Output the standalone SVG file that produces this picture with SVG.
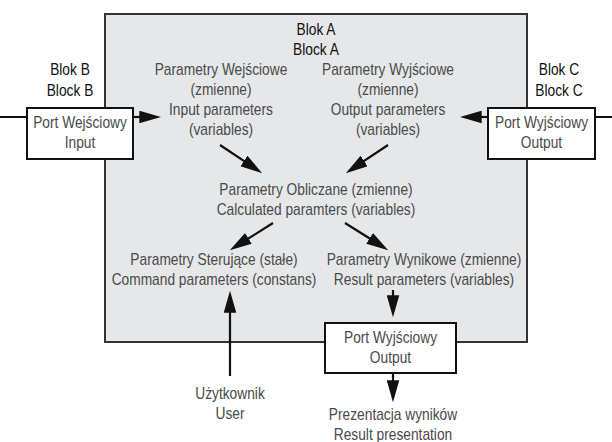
<svg xmlns="http://www.w3.org/2000/svg" width="612" height="442" viewBox="0 0 612 442">
<style>
text{font-family:"Liberation Sans",Arial,sans-serif;font-size:16px;text-anchor:middle;fill:#4a4a4a}
text.blk{fill:#111}
.box{fill:#fff;stroke:#111;stroke-width:2}
.main{fill:#e6e7e9;stroke:#333;stroke-width:2}
.ln{stroke:#111;stroke-width:2;fill:none}
.ar{stroke:#111;stroke-width:2.2;fill:none;marker-end:url(#ah)}
</style>
<defs>
<marker id="ah" markerUnits="userSpaceOnUse" markerWidth="22" markerHeight="13" refX="15" refY="6" orient="auto" viewBox="0 0 21 12">
<path d="M0,0 L21,6 L0,12 z" fill="#111"/>
</marker>
</defs>
<g id="blockA">
<rect class="main" x="105" y="14" width="422" height="328"/>
<text class="blk" transform="translate(316 35) scale(0.86 1)">Blok A</text>
<text class="blk" transform="translate(316 55) scale(0.86 1)">Block A</text>
</g>
<g id="blockB">
<text class="blk" transform="translate(70 75) scale(0.86 1)">Blok B</text>
<text class="blk" transform="translate(70 96) scale(0.86 1)">Block B</text>
</g>
<g id="blockC">
<text class="blk" transform="translate(559 75) scale(0.86 1)">Blok C</text>
<text class="blk" transform="translate(559 96) scale(0.86 1)">Block C</text>
</g>
<g id="inputParams">
<text transform="translate(221 75) scale(0.86 1)">Parametry Wejściowe</text>
<text transform="translate(221 95) scale(0.86 1)">(zmienne)</text>
<text transform="translate(221 115) scale(0.86 1)">Input parameters</text>
<text transform="translate(221 135) scale(0.86 1)">(variables)</text>
</g>
<g id="outputParams">
<text transform="translate(388 75) scale(0.86 1)">Parametry Wyjściowe</text>
<text transform="translate(388 95) scale(0.86 1)">(zmienne)</text>
<text transform="translate(388 115) scale(0.86 1)">Output parameters</text>
<text transform="translate(388 135) scale(0.86 1)">(variables)</text>
</g>
<g id="calcParams">
<text transform="translate(316 195) scale(0.86 1)">Parametry Obliczane (zmienne)</text>
<text transform="translate(316 215) scale(0.86 1)">Calculated paramters (variables)</text>
</g>
<g id="commandParams">
<text transform="translate(214 265) scale(0.86 1)">Parametry Sterujące (stałe)</text>
<text transform="translate(214 285) scale(0.86 1)">Command parameters (constans)</text>
</g>
<g id="resultParams">
<text transform="translate(424 265) scale(0.86 1)">Parametry Wynikowe (zmienne)</text>
<text transform="translate(424 285) scale(0.86 1)">Result parameters (variables)</text>
</g>
<g id="portInput">
<rect class="box" x="27" y="108" width="106" height="51"/>
<text transform="translate(80 128) scale(0.86 1)">Port Wejściowy</text>
<text transform="translate(80 148) scale(0.86 1)">Input</text>
</g>
<g id="portOutputRight">
<rect class="box" x="488" y="108" width="107" height="51"/>
<text transform="translate(541.5 128) scale(0.86 1)">Port Wyjściowy</text>
<text transform="translate(541.5 148) scale(0.86 1)">Output</text>
</g>
<g id="portOutputBottom">
<rect class="box" x="325" y="323" width="131" height="50"/>
<text transform="translate(390.5 343) scale(0.86 1)">Port Wyjściowy</text>
<text transform="translate(390.5 363) scale(0.86 1)">Output</text>
</g>
<g id="user">
<text transform="translate(230 399) scale(0.86 1)">Użytkownik</text>
<text transform="translate(230 419) scale(0.86 1)">User</text>
</g>
<g id="presentation">
<text transform="translate(393 420) scale(0.86 1)">Prezentacja wyników</text>
<text transform="translate(393 440) scale(0.86 1)">Result presentation</text>
</g>
<g id="connectors">
<line class="ln" x1="0" y1="117" x2="27" y2="117"/>
<line class="ln" x1="595" y1="117" x2="612" y2="117"/>
<line class="ar" x1="133" y1="117" x2="155" y2="117"/>
<line class="ar" x1="488" y1="117" x2="466" y2="117"/>
<line class="ar" x1="220" y1="145" x2="257" y2="169.7"/>
<line class="ar" x1="388" y1="145" x2="351" y2="169.7"/>
<line class="ar" x1="273" y1="223" x2="235.1" y2="246.8"/>
<line class="ar" x1="345" y1="223" x2="382.9" y2="246.8"/>
<line class="ar" x1="393" y1="290" x2="393" y2="311"/>
<line class="ar" x1="230" y1="376" x2="230" y2="297"/>
<line class="ar" x1="393" y1="373" x2="393" y2="396"/>
</g>
</svg>
